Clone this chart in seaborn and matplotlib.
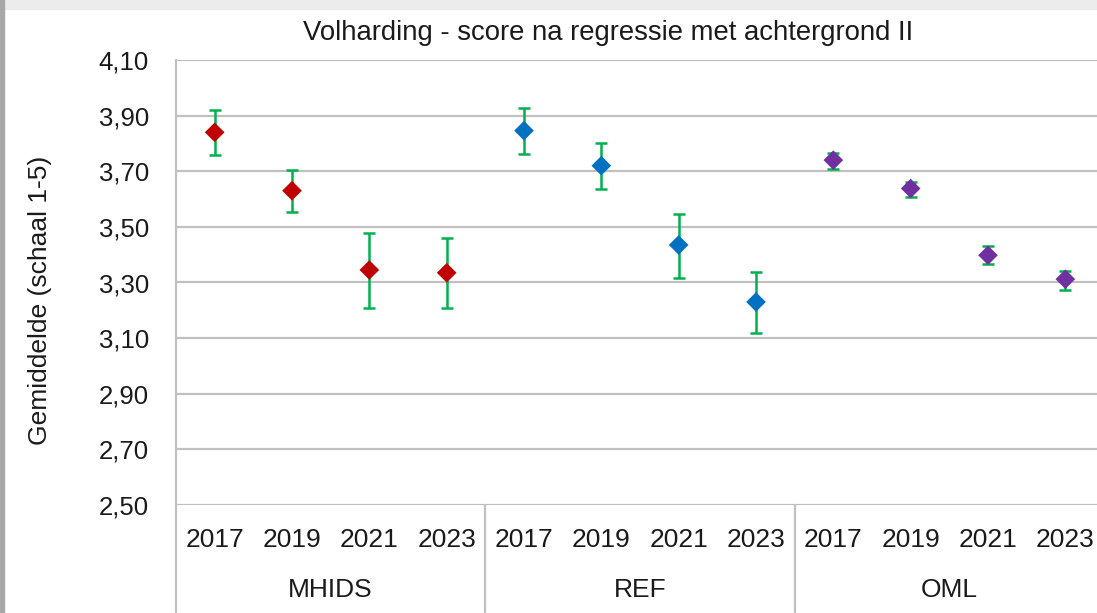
import numpy as np
import pandas as pd
import matplotlib
matplotlib.use("Agg")
import matplotlib.pyplot as plt
import matplotlib.transforms as mtransforms
import seaborn as sns

groups = ["MHIDS", "REF", "OML"]
years = ["2017", "2019", "2021", "2023"]
means = [3.84, 3.63, 3.345, 3.335,
         3.846, 3.72, 3.435, 3.23,
         3.74, 3.638, 3.398, 3.312]
err_low = [3.758, 3.554, 3.208, 3.208,
           3.762, 3.635, 3.317, 3.119,
           3.708, 3.609, 3.365, 3.273]
err_high = [3.920, 3.705, 3.478, 3.460,
            3.929, 3.800, 3.547, 3.339,
            3.767, 3.663, 3.430, 3.340]
group_colors = {"MHIDS": "#C00000", "REF": "#0070C0", "OML": "#7030A0"}
y_ticks = [2.50, 2.70, 2.90, 3.10, 3.30, 3.50, 3.70, 3.90, 4.10]

df = pd.DataFrame({
    "groep": np.repeat(groups, len(years)),
    "jaar": years * len(groups),
    "gemiddelde": means,
    "laag": err_low,
    "hoog": err_high,
})
df["pos"] = np.arange(len(df))

sns.set_theme(style="white")
plt.rcParams["font.family"] = ["Liberation Sans", "DejaVu Sans"]
txt = "#1a1a1a"

fig = plt.figure(figsize=(10.97, 6.13), dpi=100)
ax = fig.add_axes([176 / 1097, 1 - 505 / 613, 928 / 1097, 445 / 613])

# screenshot frame
fig.patches.append(plt.Rectangle((0, 1 - 9 / 613), 1, 9 / 613, transform=fig.transFigure,
                                 color="#ececec", zorder=0))
fig.patches.append(plt.Rectangle((0, 0), 4 / 1097, 1, transform=fig.transFigure,
                                 color="#a8a8a8", zorder=0))

for t in y_ticks:
    ax.axhline(t, color="#c0c0c0", lw=1.6, zorder=0)

ax.errorbar(df["pos"], df["gemiddelde"],
            yerr=[df["gemiddelde"] - df["laag"], df["hoog"] - df["gemiddelde"]],
            fmt="none", ecolor="#00B050", elinewidth=1.8, capsize=4, capthick=1.8, zorder=2)
sns.scatterplot(data=df, x="pos", y="gemiddelde", hue="groep", palette=group_colors,
                marker="D", s=100, edgecolor="none", legend=False, ax=ax, zorder=3)

ax.set_xlim(-0.5, len(df) - 0.5)
ax.set_ylim(2.50, 4.10)
ax.set_yticks(y_ticks)
ax.set_yticklabels([f"{t:.2f}".replace(".", ",") for t in y_ticks], fontsize=18.5, color=txt)
ax.tick_params(axis="y", length=0, pad=19.5)
ax.set_xticks([])
ax.set_xlabel("")
ax.set_ylabel("")
for s in ["top", "right", "bottom", "left"]:
    ax.spines[s].set_visible(False)

trans = mtransforms.blended_transform_factory(ax.transData, ax.transAxes)
ax.plot([-0.5, -0.5], [1, -0.24], color="#c0c0c0", lw=1.6, clip_on=False, transform=trans)
for b in [3.5, 7.5]:
    ax.plot([b, b], [0, -0.24], color="#c0c0c0", lw=1.6, clip_on=False, transform=trans)

for p, yr in zip(df["pos"], df["jaar"]):
    ax.text(p, -0.078, yr, transform=trans, ha="center", va="center", fontsize=19, color=txt)
for i, g in enumerate(groups):
    ax.text(i * 4 + 1.5, -0.19, g, transform=trans, ha="center", va="center", fontsize=19,
            color=txt)

fig.text(40 / 1097, 1 - 300 / 613, "Gemiddelde (schaal 1-5)", rotation=90,
         ha="center", va="center", fontsize=19, color=txt)
fig.text(608 / 1097, 1 - 33 / 613, "Volharding - score na regressie met achtergrond II",
         ha="center", va="center", fontsize=19.8, color=txt)

fig.savefig("out.png", dpi=100)
